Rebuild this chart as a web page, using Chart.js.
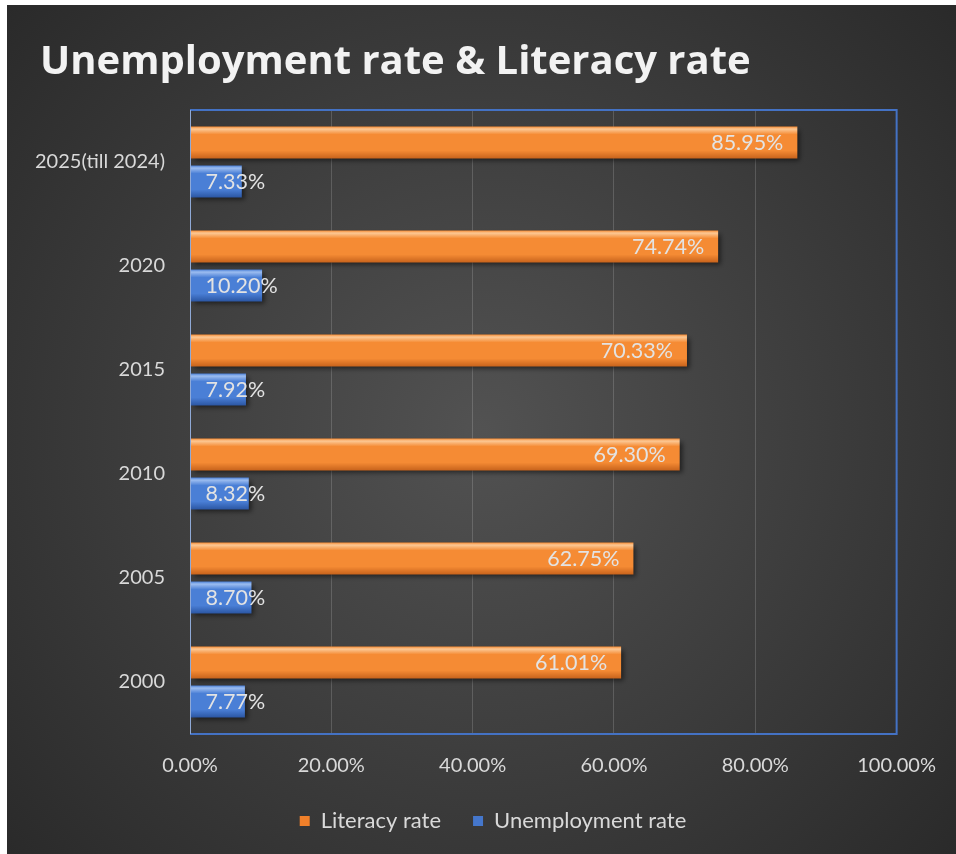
<!DOCTYPE html>
<html><head><meta charset="utf-8">
<script src="https://cdn.jsdelivr.net/npm/chart.js@4.4.1/dist/chart.umd.min.js"></script>
<style>
html,body{margin:0;padding:0;background:#fff;}
#c{position:absolute;left:7px;top:5px;}
</style></head><body>
<canvas id="c" width="949" height="849"></canvas>
<script>
const categories = ['2025(till 2024)', '2020', '2015', '2010', '2005', '2000'];
const literacyRate = [85.95, 74.74, 70.33, 69.30, 62.75, 61.01];
const unemploymentRate = [7.33, 10.20, 7.92, 8.32, 8.70, 7.77];
const xTickValues = [0, 20, 40, 60, 80, 100];
const seriesNames = ['Literacy rate', 'Unemployment rate'];

const FONT = 'Lato, "Open Sans", sans-serif';
const CAT_PCT = 0.75, BAR_PCT = 0.82;
const palettes = [
  {hi:'#fcc894', mid:'#f58b34', lo:'#c8631c', flat:'#f0802a'},
  {hi:'#9cbdf0', mid:'#4a7fd6', lo:'#2b56a3', flat:'#4577cc'}
];

function barFill(ctx) {
  const chart = ctx.chart;
  const pal = palettes[ctx.datasetIndex];
  const ys = chart.scales.y;
  if (!ys || !chart.chartArea || ctx.type !== 'data') return pal.flat;
  const band = Math.abs(ys.getPixelForValue(1) - ys.getPixelForValue(0));
  if (!isFinite(band) || band === 0) return pal.flat;
  const chunk = band * CAT_PCT / 2;
  const center = ys.getPixelForValue(ctx.dataIndex) - band * CAT_PCT / 2 + chunk * (ctx.datasetIndex + 0.5);
  const t = chunk * BAR_PCT;
  const g = chart.ctx.createLinearGradient(0, center - t / 2, 0, center + t / 2);
  g.addColorStop(0, pal.mid);
  g.addColorStop(0.08, pal.hi);
  g.addColorStop(0.25, pal.mid);
  g.addColorStop(0.75, pal.mid);
  g.addColorStop(1, pal.lo);
  return g;
}

const bgPlugin = {
  id: 'bg',
  beforeDraw(chart) {
    const c = chart.ctx, w = chart.width, h = chart.height;
    const g = c.createRadialGradient(w * 0.5, h * 0.5, 0, w * 0.5, h * 0.5, Math.hypot(w, h) * 0.55);
    g.addColorStop(0, '#525252');
    g.addColorStop(1, '#262626');
    c.save();
    c.fillStyle = g;
    c.fillRect(0, 0, w, h);
    c.restore();
  }
};

const boxShift = {
  id: 'boxShift',
  afterLayout(chart) {
    if (chart.titleBlock) { chart.titleBlock.left = 33; }
    if (chart.legend) { chart.legend.left += 37; chart.legend.right += 37; }
  }
};

const shadowPlugin = {
  id: 'barShadow',
  beforeDatasetsDraw(chart) {
    const c = chart.ctx;
    c.save();
    c.shadowColor = 'rgba(0,0,0,0.55)';
    c.shadowBlur = 5;
    c.shadowOffsetX = 3;
    c.shadowOffsetY = 3;
  },
  afterDatasetsDraw(chart) {
    chart.ctx.restore();
  }
};

const framePlugin = {
  id: 'frame',
  afterDatasetsDraw(chart) {
    const c = chart.ctx, a = chart.chartArea;
    c.save();
    c.strokeStyle = '#4472c4';
    c.lineWidth = 2;
    c.beginPath();
    c.moveTo(a.left, a.top);
    c.lineTo(a.right, a.top);
    c.lineTo(a.right, a.bottom);
    c.lineTo(a.left, a.bottom);
    c.stroke();
    c.strokeStyle = '#8fa9d6';
    c.lineWidth = 1;
    c.beginPath();
    c.moveTo(a.left + 0.5, a.top);
    c.lineTo(a.left + 0.5, a.bottom);
    c.stroke();
    c.restore();
  }
};

const labelPlugin = {
  id: 'valueLabels',
  afterDatasetsDraw(chart) {
    const c = chart.ctx;
    c.save();
    c.font = '21.5px ' + FONT;
    c.fillStyle = '#e3e3e3';
    c.textBaseline = 'middle';
    c.textAlign = 'left';
    chart.data.datasets.forEach((ds, di) => {
      const meta = chart.getDatasetMeta(di);
      meta.data.forEach((el, i) => {
        const txt = ds.data[i].toFixed(2) + '%';
        const w = c.measureText(txt).width;
        let x = el.x - 14 - w;
        if (x < el.base + 15) x = el.base + 15;
        c.fillText(txt, x, el.y + 1);
      });
    });
    c.restore();
  }
};

new Chart(document.getElementById('c'), {
  type: 'bar',
  data: {
    labels: categories,
    datasets: [
      { label: seriesNames[0], data: literacyRate, backgroundColor: barFill, borderWidth: 0,
        categoryPercentage: CAT_PCT, barPercentage: BAR_PCT },
      { label: seriesNames[1], data: unemploymentRate, backgroundColor: barFill, borderWidth: 0,
        categoryPercentage: CAT_PCT, barPercentage: BAR_PCT }
    ]
  },
  options: {
    indexAxis: 'y',
    responsive: false,
    animation: false,
    layout: { padding: { left: 8, right: 59, top: 34, bottom: 12 } },
    scales: {
      x: {
        min: 0, max: 100,
        afterBuildTicks(s) { s.ticks = xTickValues.map(v => ({ value: v })); },
        afterFit(s) { s.height = 44; },
        grid: { color: 'rgba(255,255,255,0.16)', lineWidth: 1, drawTicks: false },
        border: { display: false },
        ticks: { color: '#d9d9d9', font: { family: FONT, size: 20 }, padding: 20,
          callback: v => v.toFixed(2) + '%' }
      },
      y: {
        afterFit(s) { s.width = 175; },
        grid: { display: false, drawTicks: false },
        border: { display: false },
        ticks: { color: '#d9d9d9', font: { family: FONT, size: 20 }, padding: 25 }
      }
    },
    plugins: {
      title: {
        display: true, text: 'Unemployment rate & Literacy rate', align: 'start',
        color: '#f2f2f2', font: { family: '"Open Sans", Lato, sans-serif', size: 40, weight: 'bold', lineHeight: 1.2 },
        padding: { top: 0, bottom: 23 }
      },
      legend: {
        position: 'bottom',
        labels: {
          color: '#d9d9d9', font: { family: FONT, size: 22 }, boxWidth: 10, boxHeight: 10, padding: 32,
          generateLabels(chart) {
            return chart.data.datasets.map((ds, i) => ({
              text: ds.label, fillStyle: palettes[i].flat, strokeStyle: palettes[i].flat,
              lineWidth: 0, datasetIndex: i, fontColor: '#d9d9d9'
            }));
          }
        }
      },
      tooltip: { enabled: false }
    }
  },
  plugins: [bgPlugin, boxShift, shadowPlugin, framePlugin, labelPlugin]
});
</script>
</body></html>
